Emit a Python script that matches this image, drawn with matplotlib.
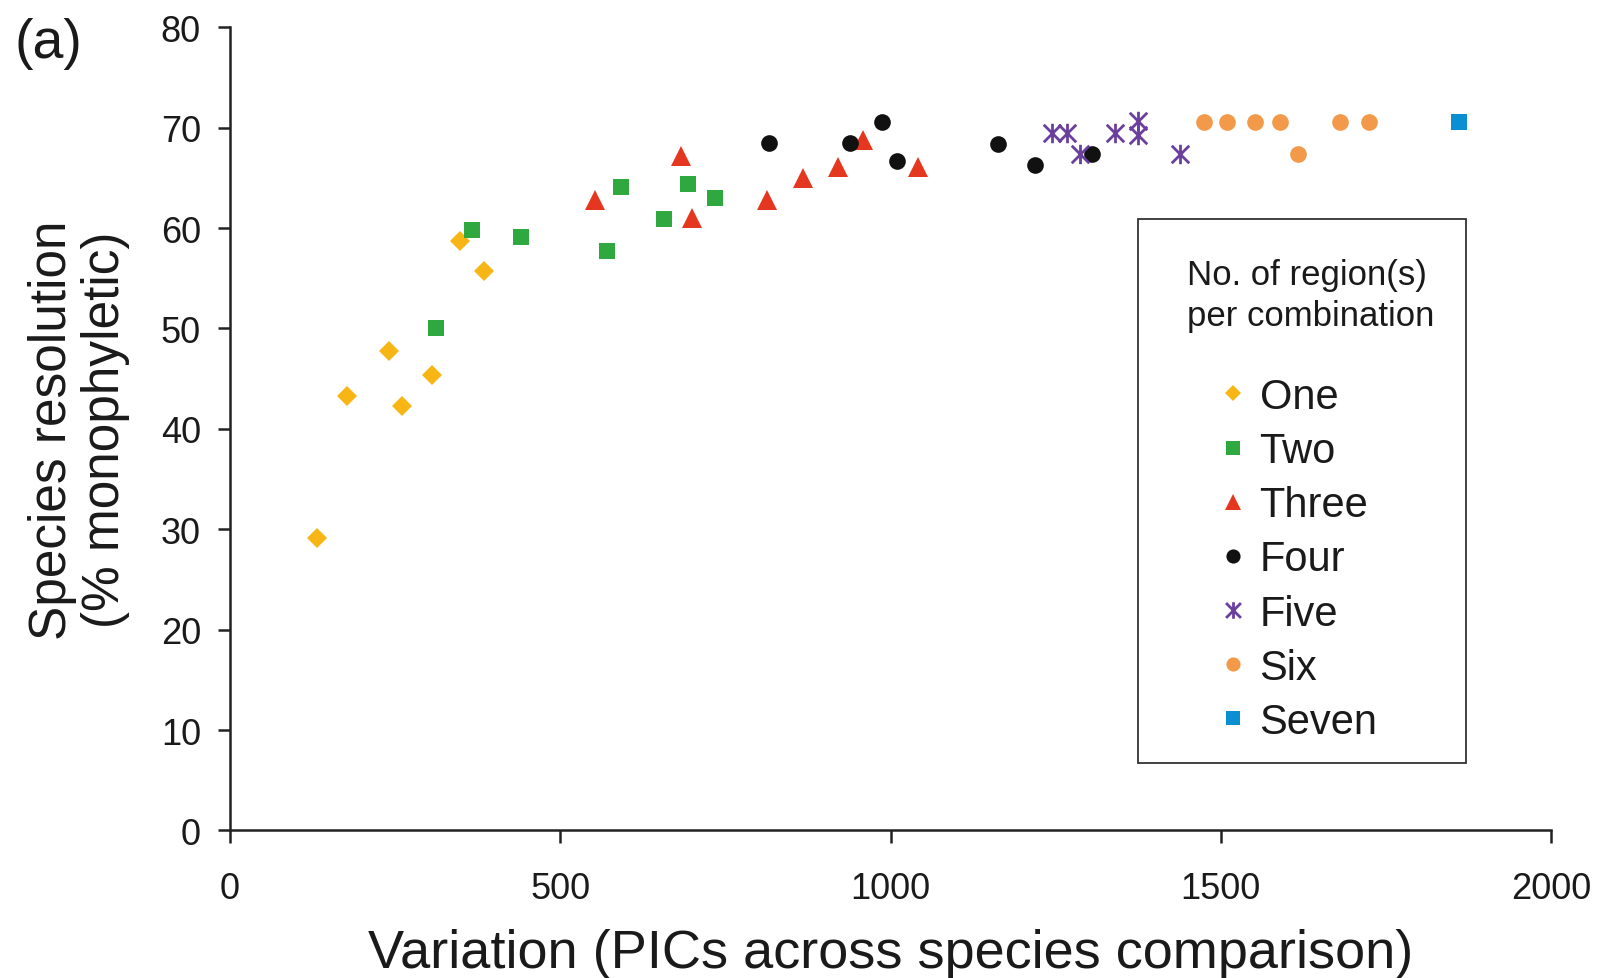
import numpy as np
import matplotlib
matplotlib.use('Agg')
import matplotlib.pyplot as plt
from matplotlib.path import Path
from matplotlib.patches import Rectangle

plt.rcParams['font.family'] = ['Liberation Sans', 'DejaVu Sans']

# PIC variation vs. % monophyletic species, grouped by number of regions
one_x = [132, 177, 240, 261, 306, 348, 385]
one_y = [29.1, 43.3, 47.8, 42.3, 45.4, 58.7, 55.7]

two_x = [311, 367, 441, 570, 592, 657, 693, 734]
two_y = [50.0, 59.8, 59.1, 57.7, 64.1, 60.9, 64.4, 63.0]

three_x = [553, 683, 699, 813, 868, 921, 958, 1041]
three_y = [62.8, 67.2, 61.0, 62.8, 65.0, 66.1, 68.8, 66.1]

four_x = [816, 939, 987, 1010, 1163, 1219, 1305]
four_y = [68.5, 68.5, 70.6, 66.7, 68.4, 66.3, 67.4]

five_x = [1244, 1267, 1287, 1340, 1375, 1375, 1438]
five_y = [69.5, 69.5, 67.4, 69.5, 70.7, 69.3, 67.4]

six_x = [1475, 1509, 1552, 1590, 1617, 1681, 1725]
six_y = [70.6, 70.6, 70.6, 70.6, 67.4, 70.6, 70.6]

seven_x = [1860]
seven_y = [70.6]

# asterisk marker: vertical bar plus an x
star = Path([(0, -1), (0, 1), (-0.9, -0.9), (0.9, 0.9), (-0.9, 0.9), (0.9, -0.9)],
            [Path.MOVETO, Path.LINETO] * 3)

series = [
    ('One', one_x, one_y, dict(marker='D', ms=10, color='#F8B616')),
    ('Two', two_x, two_y, dict(marker='s', ms=12, color='#2EA83F')),
    ('Three', three_x, three_y, dict(marker='^', ms=14, color='#E5361F')),
    ('Four', four_x, four_y, dict(marker='o', ms=12, color='#111111')),
    ('Five', five_x, five_y, dict(marker=star, ms=14, color='#6A3F9E', mew=2.0)),
    ('Six', six_x, six_y, dict(marker='o', ms=12, color='#F39A4A')),
    ('Seven', seven_x, seven_y, dict(marker='s', ms=12, color='#0A8FD3')),
]

W, H = 1598, 979
fig = plt.figure(figsize=(W / 100, H / 100), dpi=100)
ax = fig.add_axes([0.144, 0.1507, 0.8266, 0.8204])

for name, xs, ys, st in series:
    ax.plot(xs, ys, ls='none', label=name, mec=st['color'], mfc=st['color'],
            marker=st['marker'], ms=st['ms'], mew=st.get('mew', 0), clip_on=False)

ax.set_xlim(0, 2000)
ax.set_ylim(0, 80)
ax.set_xticks(np.arange(0, 2001, 500))
ax.set_yticks(np.arange(0, 81, 10))

for s in ['top', 'right']:
    ax.spines[s].set_visible(False)
for s in ['left', 'bottom']:
    ax.spines[s].set_linewidth(1.8)
    ax.spines[s].set_color('#222222')

ax.tick_params(axis='both', direction='out', length=9, width=1.8, color='#222222',
               labelsize=26, labelcolor='#1a1a1a')
ax.tick_params(axis='x', pad=20)
ax.tick_params(axis='y', pad=12)

ax.set_xlabel('Variation (PICs across species comparison)', fontsize=39,
              color='#1a1a1a', labelpad=16)
ax.set_ylabel('Species resolution\n(% monophyletic)', fontsize=37,
              color='#1a1a1a', linespacing=1.1, labelpad=22)

fig.text(0.009, 0.955, '(a)', fontsize=40, color='#1a1a1a', va='center', ha='left')

# legend box: frame, heading and entries placed separately
box = Rectangle((1138 / W, 1 - 764 / H), (1466 - 1138) / W, (764 - 220) / H,
                transform=fig.transFigure, fill=False, lw=1.3, edgecolor='#333333')
fig.add_artist(box)

fig.text(1187 / W, 1 - 296 / H, 'No. of region(s)\nper combination', fontsize=25,
         linespacing=1.3, color='#1a1a1a', ha='left', va='center')

leg = ax.legend(loc='upper left', bbox_to_anchor=(1220 / W, 1 - 378 / H),
                bbox_transform=fig.transFigure, borderaxespad=0, borderpad=0,
                fontsize=30, markerscale=0.85,
                handlelength=0.6, handletextpad=0.35, labelspacing=0.34,
                frameon=False)
for t in leg.get_texts():
    t.set_color('#1a1a1a')

fig.savefig('out.png', dpi=100, facecolor='white')
